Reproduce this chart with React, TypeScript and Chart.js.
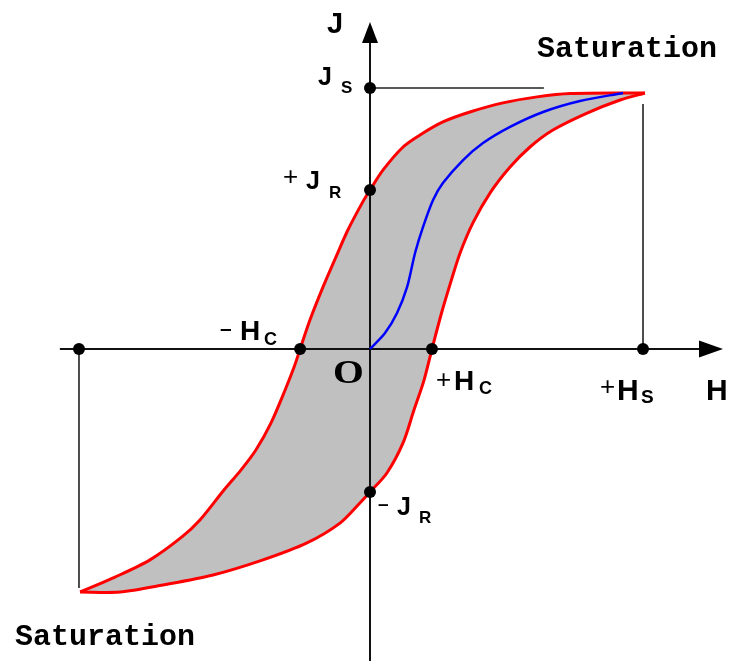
import React, { useEffect, useRef } from "react";
import { Chart, registerables } from "chart.js";

Chart.register(...registerables);

// Descending branch of the hysteresis loop (from +saturation to -saturation)
const descendingH = [10.07, 7.33, 6.12, 4.87, 3.66, 2.67, 1.83, 1.21, 0.48, 0, -0.29, -0.81, -1.25, -1.72, -2.2, -2.56, -2.78, -3.11, -3.63, -4.18, -4.73, -5.35, -6.23, -6.89, -8.06, -9.34, -10.62];
const descendingJ = [9.81, 9.79, 9.66, 9.43, 9.08, 8.7, 8.2, 7.74, 6.86, 6.09, 5.59, 4.56, 3.52, 2.38, 1.11, 0, -0.69, -1.57, -2.84, -3.87, -4.64, -5.4, -6.55, -7.2, -8.08, -8.74, -9.31];

// Ascending branch (from -saturation back to +saturation)
const ascendingH = [-10.62, -9.16, -7.58, -5.75, -3.92, -2.31, -1.1, -0.37, 0, 0.62, 1.21, 1.61, 1.98, 2.27, 2.62, 2.98, 3.3, 3.77, 4.4, 5.13, 5.86, 6.7, 7.95, 9.16, 10.07];
const ascendingJ = [-9.31, -9.31, -9.04, -8.66, -8.08, -7.43, -6.67, -5.9, -5.48, -4.75, -3.6, -2.34, -1.19, 0, 1.38, 2.64, 3.68, 4.83, 5.98, 6.97, 7.74, 8.39, 9.04, 9.54, 9.81];

// Initial magnetisation curve
const initialH = [0, 0.55, 0.99, 1.36, 1.65, 1.94, 2.31, 2.67, 3.41, 4.14, 5.13, 6.34, 7.69, 9.27];
const initialJ = [0, 0.61, 1.38, 2.38, 3.68, 4.67, 5.71, 6.36, 7.24, 7.89, 8.51, 9.08, 9.5, 9.81];

// Marked points: Js, +Jr, -Hc, +Hc, -Jr, +Hs, -Hs
const markerH = [0, 0, -2.56, 2.27, 0, 10, -10.66];
const markerJ = [10, 6.09, 0, 0, -5.48, 0, 0];

// Axes and guide lines
const hAxisH = [-11.36, 12.7];
const hAxisJ = [0, 0];
const vAxisH = [0, 0];
const vAxisJ = [12.3, -12.5];
const jsGuideH = [0, 6.37];
const jsGuideJ = [10, 10];
const hsGuideH = [10, 10];
const hsGuideJ = [0, 9.39];
const negGuideH = [-10.66, -10.66];
const negGuideJ = [0, -9.16];

const hAxisTip = { h: 12.93, j: 0 };
const vAxisTip = { h: 0, j: 12.53 };

const xMin = -13.553;
const xMax = 13.223;
const yMin = -11.954;
const yMax = 13.372;

const pts = (xs: number[], ys: number[]) => xs.map((x, i) => ({ x, y: ys[i] }));

const SANS = '"Liberation Sans", Arial, sans-serif';
const SERIF = '"Liberation Serif", "Times New Roman", serif';
const MONO = '"Liberation Mono", "Courier New", monospace';

type Part = { text: string; dx: number; dy: number; font: string; sx?: number };
type Label = { h: number; j: number; parts: Part[] };

const labels: Label[] = [
  { h: 0, j: 10, parts: [
    { text: "J", dx: -52, dy: -3, font: `bold 25px ${SANS}` },
    { text: "S", dx: -29, dy: 5, font: `bold 17px ${SANS}` },
  ] },
  { h: 0, j: 6.09, parts: [
    { text: "+", dx: -87, dy: -5, font: `26px ${SANS}` },
    { text: "J", dx: -64, dy: -1, font: `bold 25px ${SANS}` },
    { text: "R", dx: -41, dy: 8, font: `bold 17px ${SANS}` },
  ] },
  { h: -2.56, j: 0, parts: [
    { text: "–", dx: -80, dy: -14, font: `bold 21px ${SANS}` },
    { text: "H", dx: -60, dy: -9, font: `bold 28px ${SANS}` },
    { text: "C", dx: -36, dy: -4, font: `bold 18px ${SANS}` },
  ] },
  { h: 2.27, j: 0, parts: [
    { text: "+", dx: 4, dy: 39, font: `26px ${SANS}` },
    { text: "H", dx: 22, dy: 41, font: `bold 28px ${SANS}` },
    { text: "C", dx: 47, dy: 45, font: `bold 18px ${SANS}` },
  ] },
  { h: 0, j: -5.48, parts: [
    { text: "–", dx: 8, dy: 18, font: `bold 19px ${SANS}` },
    { text: "J", dx: 27, dy: 23, font: `bold 25px ${SANS}` },
    { text: "R", dx: 49, dy: 31, font: `bold 17px ${SANS}` },
  ] },
  { h: 10, j: 0, parts: [
    { text: "+", dx: -43, dy: 46, font: `26px ${SANS}` },
    { text: "H", dx: -26, dy: 51, font: `bold 30px ${SANS}` },
    { text: "S", dx: -2, dy: 54, font: `bold 19px ${SANS}` },
  ] },
  { h: hAxisTip.h, j: hAxisTip.j, parts: [
    { text: "H", dx: -17, dy: 51, font: `bold 30px ${SANS}` },
  ] },
  { h: vAxisTip.h, j: vAxisTip.j, parts: [
    { text: "J", dx: -43, dy: 11, font: `bold 29px ${SANS}` },
  ] },
  { h: 0, j: 0, parts: [
    { text: "O", dx: -37, dy: 34, font: `bold 33px ${SERIF}`, sx: 1.2 },
  ] },
  { h: 10.07, j: 9.81, parts: [
    { text: "Saturation", dx: -108, dy: -36, font: `bold 30px ${MONO}` },
  ] },
  { h: -10.62, j: -9.31, parts: [
    { text: "Saturation", dx: -65, dy: 53, font: `bold 30px ${MONO}` },
  ] },
];

const decorPlugin = {
  id: "decor",
  afterDatasetsDraw(chart: any) {
    const { ctx } = chart;
    const xs = chart.scales.x;
    const ys = chart.scales.y;
    ctx.save();
    ctx.fillStyle = "#000";
    // arrowheads
    const vx = xs.getPixelForValue(vAxisTip.h);
    const vy = ys.getPixelForValue(vAxisTip.j);
    ctx.beginPath();
    ctx.moveTo(vx, vy);
    ctx.lineTo(vx - 8, vy + 21);
    ctx.lineTo(vx + 8, vy + 21);
    ctx.closePath();
    ctx.fill();
    const hx = xs.getPixelForValue(hAxisTip.h);
    const hy = ys.getPixelForValue(hAxisTip.j);
    ctx.beginPath();
    ctx.moveTo(hx, hy);
    ctx.lineTo(hx - 24, hy - 8.5);
    ctx.lineTo(hx - 24, hy + 8.5);
    ctx.closePath();
    ctx.fill();
    // labels
    ctx.textAlign = "left";
    ctx.textBaseline = "alphabetic";
    for (const lab of labels) {
      const ax = xs.getPixelForValue(lab.h);
      const ay = ys.getPixelForValue(lab.j);
      for (const p of lab.parts) {
        ctx.font = p.font;
        if (p.sx) {
          ctx.save();
          ctx.translate(ax + p.dx, ay + p.dy);
          ctx.scale(p.sx, 1);
          ctx.fillText(p.text, 0, 0);
          ctx.restore();
        } else {
          ctx.fillText(p.text, ax + p.dx, ay + p.dy);
        }
      }
    }
    ctx.restore();
  },
};

export default function App() {
  const ref = useRef<HTMLCanvasElement | null>(null);

  useEffect(() => {
    if (!ref.current) return;
    const loop = [...pts(descendingH, descendingJ), ...pts(ascendingH, ascendingJ).slice(1)];
    const lineDs = (data: any[], color: string, width: number, order: number, tension = 0) => ({
      data,
      showLine: true,
      borderColor: color,
      borderWidth: width,
      pointRadius: 0,
      fill: false,
      tension,
      order,
    });
    const chart = new Chart(ref.current, {
      type: "scatter",
      data: {
        datasets: [
          {
            data: loop,
            showLine: true,
            borderWidth: 0,
            borderColor: "rgba(0,0,0,0)",
            backgroundColor: "#c0c0c0",
            fill: "shape",
            pointRadius: 0,
            tension: 0.3,
            order: 20,
          } as any,
          lineDs(pts(hAxisH, hAxisJ), "#111", 2, 15),
          lineDs(pts(vAxisH, vAxisJ), "#111", 2, 15),
          lineDs(pts(jsGuideH, jsGuideJ), "#222", 1.6, 15),
          lineDs(pts(hsGuideH, hsGuideJ), "#222", 1.6, 15),
          lineDs(pts(negGuideH, negGuideJ), "#222", 1.6, 15),
          lineDs(pts(descendingH, descendingJ), "#ff0000", 3, 10, 0.3),
          lineDs(pts(ascendingH, ascendingJ), "#ff0000", 3, 10, 0.3),
          lineDs(pts(initialH, initialJ), "#0000ff", 2.5, 8, 0.3),
          {
            data: pts(markerH, markerJ),
            showLine: false,
            pointRadius: 6,
            pointBackgroundColor: "#000",
            pointBorderColor: "#000",
            pointBorderWidth: 0,
            order: 1,
          },
        ],
      },
      options: {
        animation: false,
        responsive: false,
        maintainAspectRatio: false,
        events: [],
        layout: { padding: 0, autoPadding: false },
        plugins: { legend: { display: false }, tooltip: { enabled: false }, title: { display: false } },
        scales: {
          x: { type: "linear", min: xMin, max: xMax, display: false },
          y: { type: "linear", min: yMin, max: yMax, display: false },
        },
      } as any,
      plugins: [decorPlugin],
    });
    return () => chart.destroy();
  }, []);

  return (
    <div style={{ position: "fixed", left: 0, top: 0, width: 731, height: 661, background: "#fff" }}>
      <canvas ref={ref} width={731} height={661} style={{ display: "block" }} />
    </div>
  );
}
